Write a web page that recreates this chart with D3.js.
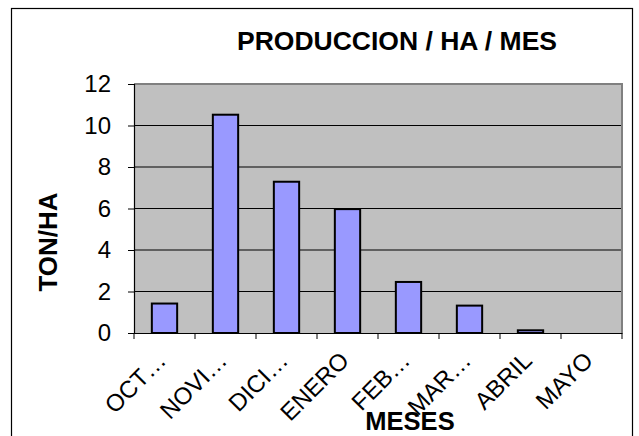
<!DOCTYPE html>
<html>
<head>
<meta charset="utf-8">
<script src="https://cdn.jsdelivr.net/npm/d3@7"></script>
<style>
  html, body { margin: 0; padding: 0; background: #fff; }
  svg { display: block; }
  text { font-family: "Liberation Sans", Arial, sans-serif; fill: #000; }
</style>
</head>
<body>
<svg id="chart" width="639" height="436"></svg>
<script>
const categories = ["OCT…", "NOVI…", "DICI…", "ENERO", "FEB…", "MAR…", "ABRIL", "MAYO"];
const values = [1.42, 10.52, 7.29, 5.97, 2.46, 1.32, 0.13, 0];
const yTicks = [0, 2, 4, 6, 8, 10, 12];
const title = "PRODUCCION / HA / MES";
const xTitle = "MESES";
const yTitle = "TON/HA";

const svg = d3.select("#chart");
const plot = { left: 134, right: 622, top: 84, bottom: 333 };

// outer chart border
svg.append("rect")
  .attr("x", 11.5).attr("y", 8.5)
  .attr("width", 621).attr("height", 450)
  .attr("fill", "#fff").attr("stroke", "#000").attr("stroke-width", 1.2);

const x = d3.scaleBand().domain(categories).range([plot.left, plot.right]).padding(0);
const y = d3.scaleLinear().domain([0, 12]).range([plot.bottom, plot.top]);

// plot background
svg.append("rect")
  .attr("x", plot.left).attr("y", plot.top)
  .attr("width", plot.right - plot.left).attr("height", plot.bottom - plot.top)
  .attr("fill", "#c0c0c0");

// gridlines
svg.append("g").selectAll("line").data(yTicks.filter(d => d > 0 && d < 12)).join("line")
  .attr("x1", plot.left).attr("x2", plot.right)
  .attr("y1", d => y(d)).attr("y2", d => y(d))
  .attr("stroke", "#000").attr("stroke-width", 1);

// plot border top & right (gray)
svg.append("path")
  .attr("d", `M${plot.left},${plot.top}H${plot.right}V${plot.bottom}`)
  .attr("fill", "none").attr("stroke", "#808080").attr("stroke-width", 2);

// bars
const barFrac = 0.415;
svg.append("g").selectAll("rect").data(categories.map((c, i) => ({ c, v: values[i] })).filter(d => d.v > 0)).join("rect")
  .attr("x", d => x(d.c) + x.bandwidth() * (1 - barFrac) / 2)
  .attr("width", x.bandwidth() * barFrac)
  .attr("y", d => y(d.v))
  .attr("height", d => y(0) - y(d.v))
  .attr("fill", "#9999ff").attr("stroke", "#000").attr("stroke-width", 2);

// y axis
const yAxis = svg.append("g").attr("transform", `translate(${plot.left},0)`)
  .call(d3.axisLeft(y).tickValues(yTicks).tickSize(6).tickPadding(17).tickFormat(d3.format("d")));
yAxis.select(".domain").attr("stroke", "#000").attr("stroke-width", 1.2);
yAxis.selectAll(".tick line").attr("stroke", "#000");
yAxis.selectAll("text").attr("font-size", 24).attr("font-family", "Liberation Sans, Arial, sans-serif").attr("fill", "#000");

// x axis
const xAxis = svg.append("g").attr("transform", `translate(0,${plot.bottom})`)
  .call(d3.axisBottom(x).tickSize(0).tickFormat(""));
xAxis.select(".domain").attr("stroke", "#000").attr("stroke-width", 1.2);
// tick marks at category boundaries
const bounds = categories.map(c => x(c)).concat([x(categories[categories.length - 1]) + x.bandwidth()]);
xAxis.append("g").selectAll("line").data(bounds).join("line")
  .attr("x1", d => d).attr("x2", d => d).attr("y1", 0).attr("y2", 6)
  .attr("stroke", "#000").attr("stroke-width", 1);

// x labels rotated
svg.append("g").selectAll("text").data(categories).join("text")
  .attr("transform", d => `translate(${x(d) + x.bandwidth() / 2 + 3},${plot.bottom + 29}) rotate(-45)`)
  .attr("text-anchor", "end")
  .attr("font-size", 24)
  .text(d => d);

// titles
svg.append("text").attr("x", 397).attr("y", 50).attr("text-anchor", "middle")
  .attr("font-size", 26.5).attr("font-weight", "bold").text(title);
svg.append("text").attr("x", 410).attr("y", 430).attr("text-anchor", "middle")
  .attr("font-size", 25.5).attr("font-weight", "bold").text(xTitle);
svg.append("text").attr("transform", "translate(57,242) rotate(-90)").attr("text-anchor", "middle")
  .attr("font-size", 26).attr("font-weight", "bold").text(yTitle);
</script>
</body>
</html>
